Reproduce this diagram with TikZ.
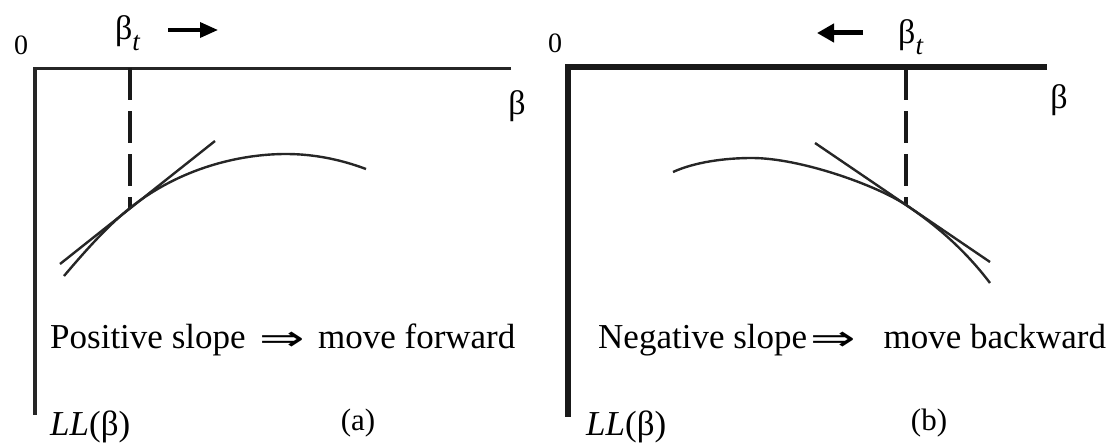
\documentclass[tikz,border=0pt]{standalone}
\usepackage{fontspec}
\setmainfont{Liberation Serif}
\newfontfamily\dejavu{DejaVu Sans}
\usetikzlibrary{arrows.meta}
\newcommand{\fsz}[1]{\fontsize{#1}{#1}\selectfont}
\newcommand{\bsub}{β\raisebox{-11pt}{\fsz{27}\itshape t}}
\newcommand{\dbl}{\raisebox{-2pt}{\dejavu\scalebox{1.55}[1.0]{⇒}}}
\begin{document}
\begin{tikzpicture}[x=1pt,y=-1pt,
  axisA/.style={line width=3.5pt, line join=miter, color=black!85},
  axisB/.style={line width=5.5pt, line join=miter, color=black!90},
  curve/.style={line width=2.4pt, color=black!85},
  dashline/.style={line width=3.5pt, dash pattern=on 32pt off 11pt, color=black!90},
  zero/.style={inner sep=0pt, font=\fsz{28}},
  lbl/.style={inner sep=0pt, font=\fsz{34}},
  captxt/.style={inner sep=0pt, font=\fsz{31}},
  txt/.style={inner sep=0pt, anchor=base west, font=\fsz{35}}]
\useasboundingbox (0,0) rectangle (1119,444);

% ---------- panel (a) ----------
\coordinate (xa) at (511,68.5);
\coordinate (oa) at (35,68.5);
\coordinate (ya) at (35,415);
\draw[axisA] (xa) -- (oa) -- (ya);
\node[zero] (za) at (21,45) {0};
\node[lbl, anchor=base west] (bta) at (115,40) {\bsub};
\coordinate (arA1) at (168,30);
\coordinate (arA2) at (218,30);
\draw[line width=3.5pt, -{Triangle[length=18pt,width=15pt]}] (arA1) -- (arA2);
\node[lbl] (ba) at (517,106) {β};
\coordinate (da1) at (130,68);
\coordinate (tpa) at (130,208);
\draw[dashline] (da1) -- (tpa);
\coordinate (ca0) at (64,276);
\coordinate (capk) at (286,154);
\coordinate (ca3) at (366,169);
\draw[curve] (ca0) .. controls (86,250) and (108,225.5) .. (tpa)
  .. controls (180,168) and (240,154) .. (capk)
  .. controls (315,154) and (342,160) .. (ca3);
\coordinate (ta1) at (60,264);
\coordinate (ta2) at (215,141);
\draw[curve] (ta1) -- (ta2);
\node[txt] (txa) at (50,348) {Positive slope\hspace{14pt}\dbl\hspace{13pt}move forward};
\node[txt] (lla) at (50,435) {\itshape LL\upshape(β)};
\node[captxt] (cpa) at (358,423) {(a)};

% ---------- panel (b) ----------
\coordinate (xb) at (1047,67);
\coordinate (ob) at (568,67);
\coordinate (yb) at (568,417);
\draw[axisB] (xb) -- (ob) -- (yb);
\node[zero] (zb) at (555,43) {0};
\node[lbl, anchor=base west] (btb) at (898,44) {\bsub};
\coordinate (arB1) at (863,33);
\coordinate (arB2) at (817,33);
\draw[line width=5pt, -{Triangle[length=17pt,width=18pt]}] (arB1) -- (arB2);
\node[lbl] (bb) at (1059,100) {β};
\coordinate (db1) at (906,68);
\coordinate (tpb) at (906,205);
\draw[dashline] (db1) -- (tpb);
\coordinate (cb0) at (673,172);
\coordinate (cbpk) at (752,158);
\coordinate (cb3) at (990,283);
\draw[curve] (cb0) .. controls (695,162) and (725,158) .. (cbpk)
  .. controls (800,158) and (876,185) .. (tpb)
  .. controls (936,225) and (965,250) .. (cb3);
\coordinate (tb1) at (815,143);
\coordinate (tb2) at (990,262);
\draw[curve] (tb1) -- (tb2);
\node[txt] (txb) at (598,348) {Negative slope\hspace{3pt}\dbl\hspace{28pt}move backward};
\node[txt] (llb) at (586,435) {\itshape LL\upshape(β)};
\node[captxt] (cpb) at (929,423) {(b)};
\end{tikzpicture}
\end{document}
